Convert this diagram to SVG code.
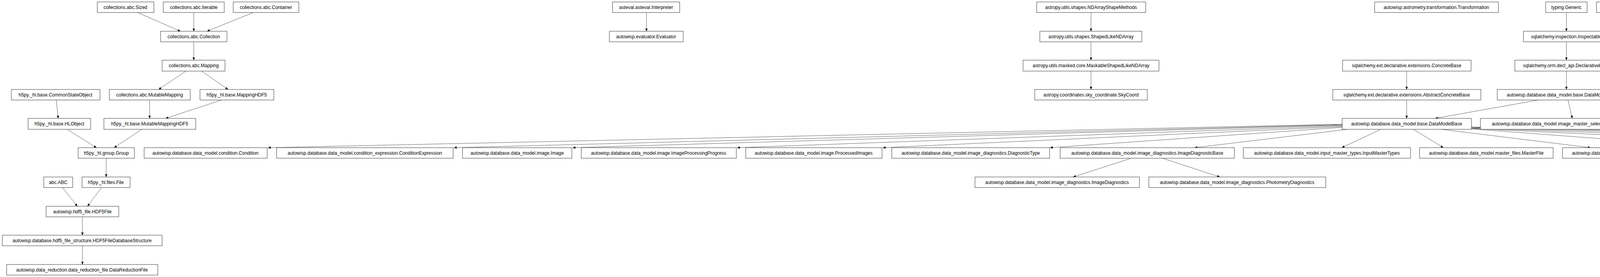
<svg xmlns="http://www.w3.org/2000/svg" width="6989" height="709" viewBox="0 0 6989 709">
<style>
rect{fill:#fff;stroke:#333;stroke-width:1}
text{font-family:"Liberation Sans",Arial,sans-serif;font-size:12px;fill:#000;text-anchor:middle}
#edges line{stroke:#333;stroke-width:0.8;marker-end:url(#a)}
</style>
<defs><marker id="a" markerWidth="8" markerHeight="8" refX="7" refY="3" orient="auto" markerUnits="userSpaceOnUse"><path d="M0,0L7,3L0,6z" fill="#000"/></marker></defs>
<rect x="0" y="0" width="6989" height="709" style="fill:#fff;stroke:none"/>
<g id="edges">
<line x1="352" y1="32" x2="462" y2="80"/>
<line x1="496" y1="32" x2="496" y2="80"/>
<line x1="648" y1="32" x2="530" y2="80"/>
<line x1="496" y1="107" x2="496" y2="154"/>
<line x1="476" y1="182" x2="406" y2="229"/>
<line x1="516" y1="182" x2="584" y2="229"/>
<line x1="144" y1="256" x2="149" y2="303"/>
<line x1="383" y1="256" x2="383" y2="303"/>
<line x1="567" y1="256" x2="424" y2="303"/>
<line x1="172" y1="331" x2="247" y2="378"/>
<line x1="363" y1="331" x2="292" y2="378"/>
<line x1="272" y1="405" x2="272" y2="453"/>
<line x1="160" y1="480" x2="198" y2="528"/>
<line x1="260" y1="480" x2="224" y2="528"/>
<line x1="211" y1="555" x2="211" y2="602"/>
<line x1="211" y1="629" x2="211" y2="677"/>
<line x1="1655" y1="32" x2="1655" y2="80"/>
<line x1="2793" y1="32" x2="2793" y2="80"/>
<line x1="2793" y1="107" x2="2793" y2="154"/>
<line x1="2793" y1="182" x2="2793" y2="229"/>
<line x1="3601" y1="182" x2="3601" y2="229"/>
<line x1="3601" y1="256" x2="3601" y2="303"/>
<line x1="4010" y1="32" x2="4010" y2="80"/>
<line x1="4010" y1="107" x2="4010" y2="154"/>
<line x1="4010" y1="182" x2="4010" y2="229"/>
<line x1="3938" y1="256" x2="3674" y2="303"/>
<line x1="4014" y1="256" x2="4025" y2="303"/>
<line x1="4625" y1="32" x2="4625" y2="80"/>
<line x1="4956" y1="32" x2="4956" y2="80"/>
<line x1="4956" y1="107" x2="4956" y2="154"/>
<line x1="4956" y1="182" x2="4956" y2="229"/>
<line x1="5194" y1="32" x2="5194" y2="80"/>
<line x1="3436" y1="318" x2="686" y2="378"/>
<line x1="3436" y1="319" x2="1162" y2="378"/>
<line x1="3436" y1="320" x2="1466" y2="378"/>
<line x1="3436" y1="322" x2="1887" y2="378"/>
<line x1="3436" y1="324" x2="2260" y2="378"/>
<line x1="3436" y1="326" x2="2688" y2="378"/>
<line x1="3450" y1="331" x2="3058" y2="378"/>
<line x1="3535" y1="331" x2="3435" y2="378"/>
<line x1="3618" y1="331" x2="3695" y2="378"/>
<line x1="3690" y1="331" x2="4072" y2="378"/>
<line x1="3767" y1="330" x2="4405" y2="378"/>
<line x1="3767" y1="329" x2="4817" y2="378"/>
<line x1="3767" y1="328" x2="5211" y2="378"/>
<line x1="3767" y1="327" x2="5704" y2="378"/>
<line x1="3767" y1="326" x2="6158" y2="378"/>
<line x1="3767" y1="325" x2="6613" y2="378"/>
<line x1="2896" y1="405" x2="2747" y2="453"/>
<line x1="2976" y1="405" x2="3123" y2="453"/>
</g>
<g id="n1"><rect x="249" y="5" width="145" height="27"/><text x="321" y="23">collections.abc.Sized</text></g>
<g id="n2"><rect x="418" y="5" width="156" height="27"/><text x="496" y="23">collections.abc.Iterable</text></g>
<g id="n3"><rect x="597" y="5" width="168" height="27"/><text x="681" y="23">collections.abc.Container</text></g>
<g id="n4"><rect x="411" y="80" width="170" height="27"/><text x="496" y="98">collections.abc.Collection</text></g>
<g id="n5"><rect x="415" y="154" width="161" height="28"/><text x="496" y="172">collections.abc.Mapping</text></g>
<g id="n6"><rect x="29" y="229" width="227" height="27"/><text x="142" y="247">h5py._hl.base.CommonStateObject</text></g>
<g id="n7"><rect x="280" y="229" width="207" height="27"/><text x="383" y="247">collections.abc.MutableMapping</text></g>
<g id="n8"><rect x="512" y="229" width="189" height="27"/><text x="606" y="247">h5py._hl.base.MappingHDF5</text></g>
<g id="n9"><rect x="72" y="303" width="160" height="28"/><text x="152" y="321">h5py._hl.base.HLObject</text></g>
<g id="n10"><rect x="266" y="303" width="235" height="28"/><text x="383" y="321">h5py._hl.base.MutableMappingHDF5</text></g>
<g id="n11"><rect x="200" y="378" width="144" height="27"/><text x="272" y="396">h5py._hl.group.Group</text></g>
<g id="n12"><rect x="112" y="453" width="74" height="27"/><text x="149" y="471">abc.ABC</text></g>
<g id="n13"><rect x="210" y="453" width="123" height="27"/><text x="271" y="471">h5py._hl.files.File</text></g>
<g id="n14"><rect x="118" y="528" width="186" height="27"/><text x="211" y="546">autowisp.hdf5_file.HDF5File</text></g>
<g id="n15"><rect x="6" y="602" width="409" height="27"/><text x="210" y="620">autowisp.database.hdf5_file_structure.HDF5FileDatabaseStructure</text></g>
<g id="n16"><rect x="17" y="677" width="387" height="27"/><text x="210" y="695">autowisp.data_reduction.data_reduction_file.DataReductionFile</text></g>
<g id="n17"><rect x="1568" y="5" width="172" height="27"/><text x="1654" y="23">asteval.asteval.Interpreter</text></g>
<g id="n18"><rect x="1560" y="80" width="189" height="27"/><text x="1654" y="98">autowisp.evaluator.Evaluator</text></g>
<g id="n19"><rect x="2654" y="5" width="279" height="27"/><text x="2793" y="23">astropy.utils.shapes.NDArrayShapeMethods</text></g>
<g id="n20"><rect x="2662" y="80" width="261" height="27"/><text x="2793" y="98">astropy.utils.shapes.ShapedLikeNDArray</text></g>
<g id="n21"><rect x="2619" y="154" width="348" height="28"/><text x="2793" y="172">astropy.utils.masked.core.MaskableShapedLikeNDArray</text></g>
<g id="n22"><rect x="2649" y="229" width="288" height="27"/><text x="2793" y="247">astropy.coordinates.sky_coordinate.SkyCoord</text></g>
<g id="n23"><rect x="3519" y="5" width="317" height="27"/><text x="3677" y="23">autowisp.astrometry.transformation.Transformation</text></g>
<g id="n24"><rect x="3437" y="154" width="329" height="28"/><text x="3601" y="172">sqlalchemy.ext.declarative.extensions.ConcreteBase</text></g>
<g id="n25"><rect x="3412" y="229" width="379" height="27"/><text x="3601" y="247">sqlalchemy.ext.declarative.extensions.AbstractConcreteBase</text></g>
<g id="n26"><rect x="3436" y="303" width="331" height="28"/><text x="3601" y="321">autowisp.database.data_model.base.DataModelBase</text></g>
<g id="n27"><rect x="3957" y="5" width="106" height="27"/><text x="4010" y="23">typing.Generic</text></g>
<g id="n28"><rect x="4087" y="5" width="355" height="27"/><text x="4264" y="23">autowisp.database.image_processing.ExpressionMatcher</text></g>
<g id="n29"><rect x="4467" y="5" width="316" height="27"/><text x="4625" y="23">autowisp.database.processing.ProcessingManager</text></g>
<g id="n30"><rect x="3900" y="80" width="220" height="27"/><text x="4010" y="98">sqlalchemy.inspection.Inspectable</text></g>
<g id="n31"><rect x="3878" y="154" width="264" height="28"/><text x="4010" y="172">sqlalchemy.orm.decl_api.DeclarativeBase</text></g>
<g id="n32"><rect x="3833" y="229" width="354" height="27"/><text x="4010" y="247">autowisp.database.data_model.base.DataModelSubBase</text></g>
<g id="n33"><rect x="3790" y="303" width="480" height="28"/><text x="4030" y="321">autowisp.database.data_model.image_master_selection.ImageMasterSelection</text></g>
<g id="n34"><rect x="4428" y="80" width="395" height="27"/><text x="4625" y="98">autowisp.database.image_processing.ImageProcessingManager</text></g>
<g id="n35"><rect x="4839" y="5" width="234" height="27"/><text x="4956" y="23">autowisp.exceptions.AutoWISPError</text></g>
<g id="n36"><rect x="5149" y="5" width="91" height="27"/><text x="5194" y="23">enum.Enum</text></g>
<g id="n37"><rect x="4847" y="80" width="218" height="27"/><text x="4956" y="98">autowisp.exceptions.PipelineError</text></g>
<g id="n38"><rect x="5088" y="80" width="212" height="27"/><text x="5194" y="98">autowisp.exceptions.Component</text></g>
<g id="n39"><rect x="4823" y="154" width="266" height="28"/><text x="4956" y="172">autowisp.exceptions.MasterSelectionError</text></g>
<g id="n40"><rect x="4792" y="229" width="328" height="27"/><text x="4956" y="247">autowisp.database.image_processing.NoMasterError</text></g>
<g id="n41"><rect x="369" y="378" width="315" height="27"/><text x="526" y="396">autowisp.database.data_model.condition.Condition</text></g>
<g id="n42"><rect x="708" y="378" width="452" height="27"/><text x="934" y="396">autowisp.database.data_model.condition_expression.ConditionExpression</text></g>
<g id="n43"><rect x="1184" y="378" width="280" height="27"/><text x="1324" y="396">autowisp.database.data_model.image.Image</text></g>
<g id="n44"><rect x="1488" y="378" width="397" height="27"/><text x="1686" y="396">autowisp.database.data_model.image.ImageProcessingProgress</text></g>
<g id="n45"><rect x="1909" y="378" width="349" height="27"/><text x="2083" y="396">autowisp.database.data_model.image.ProcessedImages</text></g>
<g id="n46"><rect x="2283" y="378" width="404" height="27"/><text x="2485" y="396">autowisp.database.data_model.image_diagnostics.DiagnosticType</text></g>
<g id="n47"><rect x="2714" y="378" width="446" height="27"/><text x="2937" y="396">autowisp.database.data_model.image_diagnostics.ImageDiagnosticBase</text></g>
<g id="n48"><rect x="3183" y="378" width="428" height="27"/><text x="3397" y="396">autowisp.database.data_model.input_master_types.InputMasterTypes</text></g>
<g id="n49"><rect x="3634" y="378" width="342" height="27"/><text x="3805" y="396">autowisp.database.data_model.master_files.MasterFile</text></g>
<g id="n50"><rect x="4000" y="378" width="348" height="27"/><text x="4174" y="396">autowisp.database.data_model.master_files.MasterType</text></g>
<g id="n51"><rect x="4372" y="378" width="423" height="27"/><text x="4583" y="396">autowisp.database.data_model.observing_session.ObservingSession</text></g>
<g id="n52"><rect x="4819" y="378" width="370" height="27"/><text x="5004" y="396">autowisp.database.data_model.provenance.camera.Camera</text></g>
<g id="n53"><rect x="5213" y="378" width="469" height="27"/><text x="5447" y="396">autowisp.database.data_model.provenance.camera_channel.CameraChannel</text></g>
<g id="n54"><rect x="5706" y="378" width="430" height="27"/><text x="5921" y="396">autowisp.database.data_model.provenance.camera_type.CameraType</text></g>
<g id="n55"><rect x="6160" y="378" width="431" height="27"/><text x="6375" y="396">autowisp.database.data_model.step_dependencies.StepDependencies</text></g>
<g id="n56"><rect x="6615" y="378" width="368" height="27"/><text x="6799" y="396">autowisp.database.data_model.steps_and_parameters.Step</text></g>
<g id="n57"><rect x="2496" y="453" width="421" height="27"/><text x="2706" y="471">autowisp.database.data_model.image_diagnostics.ImageDiagnostics</text></g>
<g id="n58"><rect x="2941" y="453" width="453" height="27"/><text x="3167" y="471">autowisp.database.data_model.image_diagnostics.PhotometryDiagnostics</text></g>
</svg>
